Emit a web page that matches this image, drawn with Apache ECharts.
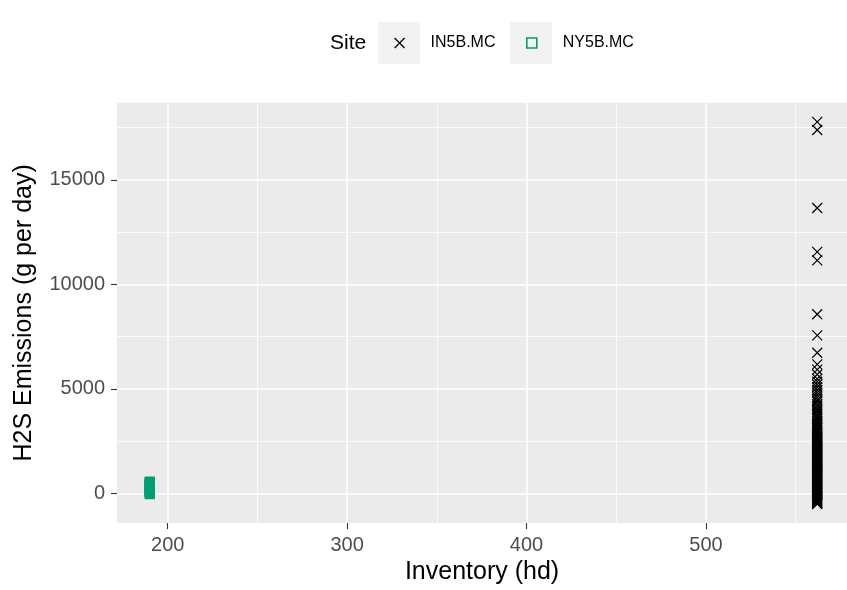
<!DOCTYPE html>
<html>
<head>
<meta charset="utf-8">
<script src="https://cdn.jsdelivr.net/npm/echarts@6/dist/echarts.min.js"></script>
<style>
html,body{margin:0;padding:0;background:#fff;}
#chart{width:847px;height:590px;}
</style>
</head>
<body>
<div id="chart"></div>
<script>
// ---- data ----
const siteNames = ['IN5B.MC', 'NY5B.MC'];
const in5bInventory = 562;
const ny5bInventory = 190;
const in5bEmissions = [
  -505, -470, -440, -395, -360, -320, -285, -240, -200, -170, -130, -90, -55, -20,
  15, 50, 95, 130, 170, 205, 250, 290, 325, 365, 400, 445, 480, 520, 560, 600,
  640, 675, 715, 760, 800, 835, 880, 915, 960, 1000, 1040, 1075, 1120, 1160, 1195,
  1240, 1280, 1320, 1360, 1395, 1440, 1480, 1520, 1555, 1600, 1640, 1680, 1720,
  1760, 1800, 1845, 1880, 1920, 1960, 2005, 2040, 2080, 2125, 2160, 2200, 2245,
  2290, 2330, 2375, 2410, 2460, 2500, 2550, 2590, 2640, 2690, 2730, 2790, 2840,
  2900, 2950, 3010, 3060, 3130, 3190, 3250, 3320, 3390,
  3470, 3560, 3640, 3720, 3810, 3900, 3990, 4070, 4180, 4260, 4380, 4470, 4590,
  4700, 4830, 4950, 5080, 5210, 5350, 5480, 5690, 5920, 6170,
  6730, 7560, 8570, 11150, 11550, 13650, 17380, 17770
];
const ny5bEmissions = [
  -40, 0, 30, 60, 95, 120, 150, 185, 215, 250, 280, 310, 345, 375, 410, 440, 470, 505, 540, 575
];
const xTicks = [200, 300, 400, 500];
const xMinorTicks = [250, 350, 450, 550];
const yTicks = [0, 5000, 10000, 15000];
const yMinorTicks = [2500, 7500, 12500, 17500];

// ---- chart ----
const FONT = 'Liberation Sans, Arial, sans-serif';
const crossPath = 'path://M0,0L10,10M0,10L10,0';
const green = '#009E73';

const chart = echarts.init(document.getElementById('chart'), null, {renderer: 'canvas'});

const minorLines = xMinorTicks.map(v => ({xAxis: v})).concat(yMinorTicks.map(v => ({yAxis: v})));

const option = {
  animation: false,
  backgroundColor: '#ffffff',
  textStyle: {fontFamily: FONT},
  title: {
    text: 'Site', left: 330, top: 33, padding: 0,
    textStyle: {fontFamily: FONT, fontSize: 21, fontWeight: 'normal', color: '#000'}
  },
  graphic: [
    {type: 'rect', left: 378, top: 22, shape: {width: 42, height: 42}, style: {fill: '#F2F2F2'}, z: -1},
    {type: 'rect', left: 510, top: 22, shape: {width: 42, height: 42}, style: {fill: '#F2F2F2'}, z: -1}
  ],
  legend: [
    {
      data: [{name: siteNames[0], icon: crossPath, itemStyle: {color: 'rgba(0,0,0,0)', borderColor: '#000', borderWidth: 1.2}}],
      left: 394, top: 35, padding: 0, itemWidth: 10, itemHeight: 10,
      textStyle: {fontFamily: FONT, fontSize: 16, color: '#000', padding: [0, 0, 0, 21]}
    },
    {
      data: [{name: siteNames[1], icon: 'rect', itemStyle: {color: 'rgba(0,0,0,0)', borderColor: green, borderWidth: 1.6}}],
      left: 526, top: 35, padding: 0, itemWidth: 10, itemHeight: 10,
      textStyle: {fontFamily: FONT, fontSize: 16, color: '#000', padding: [0, 0, 0, 21]}
    }
  ],
  grid: {
    left: 117, right: 0, top: 102.7, bottom: 66,
    show: true, backgroundColor: '#EBEBEB', borderWidth: 0, containLabel: false
  },
  xAxis: {
    type: 'value', min: 171.74, max: 578.6,
    name: 'Inventory (hd)', nameLocation: 'middle', nameGap: 33,
    nameTextStyle: {fontFamily: FONT, fontSize: 25, color: '#000'},
    axisLine: {show: false, onZero: false},
    axisTick: {show: true, length: 6, customValues: xTicks, lineStyle: {color: '#333333', width: 1.1}},
    axisLabel: {customValues: xTicks, margin: 12, fontFamily: FONT, fontSize: 20, color: '#4D4D4D',
      formatter: v => String(v)},
    splitLine: {show: true, lineStyle: {color: '#FFFFFF', width: 1.6}}
  },
  yAxis: {
    type: 'value', min: -1417, max: 18687,
    name: 'H2S Emissions (g per day)', nameLocation: 'middle', nameGap: 80,
    nameTextStyle: {fontFamily: FONT, fontSize: 25, color: '#000'},
    axisLine: {show: false, onZero: false},
    axisTick: {show: true, length: 6, customValues: yTicks, lineStyle: {color: '#333333', width: 1.1}},
    axisLabel: {customValues: yTicks, margin: 12, fontFamily: FONT, fontSize: 20, color: '#4D4D4D',
      formatter: v => String(v)},
    splitLine: {show: true, lineStyle: {color: '#FFFFFF', width: 1.6}}
  },
  series: [
    {
      name: '_grid', type: 'scatter', data: [], silent: true, z: 0,
      markLine: {
        silent: true, symbol: 'none', label: {show: false}, animation: false,
        lineStyle: {color: '#FFFFFF', width: 0.8, type: 'solid'},
        emphasis: {disabled: true},
        data: minorLines
      }
    },
    {
      name: siteNames[0], type: 'scatter', zlevel: 1,
      symbol: crossPath, symbolSize: 10,
      itemStyle: {color: 'rgba(0,0,0,0)', borderColor: '#000', borderWidth: 1.2, opacity: 1},
      data: in5bEmissions.map(v => [in5bInventory, v])
    },
    {
      name: siteNames[1], type: 'scatter', zlevel: 1,
      symbol: 'rect', symbolSize: 8.5,
      itemStyle: {color: 'rgba(0,0,0,0)', borderColor: green, borderWidth: 1.6, opacity: 1},
      data: ny5bEmissions.map(v => [ny5bInventory, v])
    }
  ]
};
chart.setOption(option);
</script>
</body>
</html>
